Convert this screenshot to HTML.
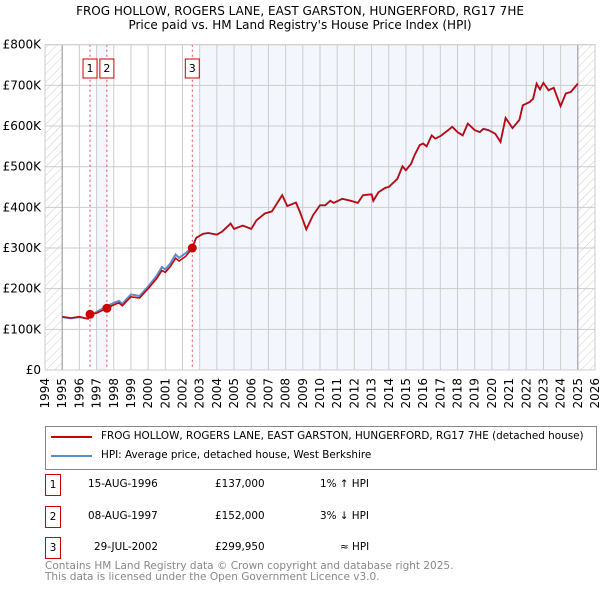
<!DOCTYPE html>
<html><head><meta charset="utf-8"><style>
body{margin:0;background:#fff;font-family:"DejaVu Sans","Liberation Sans",sans-serif;}
#wrap{position:relative;width:600px;height:590px;overflow:hidden;}
svg text{font-family:"DejaVu Sans","Liberation Sans",sans-serif;}
.t{position:absolute;font-size:10.4px;color:#000;white-space:nowrap;}
.box{position:absolute;width:16px;height:22px;border:1px solid #c00;font-size:10.4px;text-align:center;line-height:20px;box-sizing:border-box;}
</style></head><body><div id="wrap">
<svg id="svg" width="600" height="590" style="position:absolute;left:0;top:0">
<defs><pattern id="hatch" width="6" height="6" patternUnits="userSpaceOnUse" patternTransform="rotate(45)"><line x1="0" y1="0" x2="0" y2="6" stroke="#ccc" stroke-width="1"/></pattern></defs>
<g id="g"></g>
</svg>
<div class="t" style="left:0;width:600px;text-align:center;top:4px;font-size:12px">FROG HOLLOW, ROGERS LANE, EAST GARSTON, HUNGERFORD, RG17 7HE<br>Price paid vs. HM Land Registry's House Price Index (HPI)</div>
<div style="position:absolute;left:45px;top:426px;width:552px;height:44px;border:1px solid #888;box-sizing:border-box">
<div style="position:absolute;left:5px;top:9px;width:41px;height:2px;background:#c00"></div>
<div class="t" style="left:55px;top:3px">FROG HOLLOW, ROGERS LANE, EAST GARSTON, HUNGERFORD, RG17 7HE (detached house)</div>
<div style="position:absolute;left:5px;top:28px;width:41px;height:2px;background:#5b8bd0"></div>
<div class="t" style="left:55px;top:22px">HPI: Average price, detached house, West Berkshire</div>
</div>
<div>
<div class="box" style="left:45px;top:474px">1</div>
<div class="t" style="left:88px;top:478px">15-AUG-1996</div>
<div class="t" style="left:215px;top:478px">£137,000</div>
<div class="t" style="left:320px;top:478px">1% ↑ HPI</div>
<div class="box" style="left:45px;top:506px">2</div>
<div class="t" style="left:88px;top:510px">08-AUG-1997</div>
<div class="t" style="left:215px;top:510px">£152,000</div>
<div class="t" style="left:320px;top:510px">3% ↓ HPI</div>
<div class="box" style="left:45px;top:537px">3</div>
<div class="t" style="left:94px;top:541px">29-JUL-2002</div>
<div class="t" style="left:215px;top:541px">£299,950</div>
<div class="t" style="left:340px;top:541px">≈ HPI</div>
</div>
<div class="t" style="left:45px;top:561px;color:#888;line-height:11px;font-size:10.5px">Contains HM Land Registry data © Crown copyright and database right 2025.<br>This data is licensed under the Open Government Licence v3.0.</div>
</div>
<script>
const yearTicks=[1994,1995,1996,1997,1998,1999,2000,2001,2002,2003,2004,2005,2006,2007,2008,2009,2010,2011,2012,2013,2014,2015,2016,2017,2018,2019,2020,2021,2022,2023,2024,2025,2026];
const valueTicks=[0,100,200,300,400,500,600,700,800];
const valueLabels=["£0","£100K","£200K","£300K","£400K","£500K","£600K","£700K","£800K"];
const dates=[1995.0,1995.5,1996.0,1996.5,1996.62,1997.0,1997.6,1998.0,1998.3,1998.5,1999.0,1999.5,2000.0,2000.5,2000.8,2001.0,2001.3,2001.6,2001.8,2002.2,2002.57,2002.8,2003.2,2003.5,2004.0,2004.3,2004.8,2005.0,2005.5,2006.0,2006.3,2006.8,2007.2,2007.8,2008.1,2008.6,2008.83,2009.2,2009.6,2010.0,2010.3,2010.6,2010.8,2011.3,2011.8,2012.2,2012.5,2013.0,2013.1,2013.4,2013.8,2014.0,2014.5,2014.8,2015.0,2015.3,2015.5,2015.8,2016.0,2016.2,2016.5,2016.7,2017.0,2017.4,2017.7,2018.0,2018.3,2018.6,2019.0,2019.3,2019.5,2019.8,2020.2,2020.5,2020.8,2021.2,2021.6,2021.8,2022.2,2022.4,2022.6,2022.8,2023.0,2023.3,2023.6,2024.0,2024.3,2024.6,2025.0];
const propertyValues=[131,128,131,126,137,140,152,160,165,158,180,177,200,225,245,240,255,275,268,280,300,325,335,337,333,340,360,347,355,347,368,385,390,430,403,412,389,346,381,405,405,416,411,421,416,411,430,432,416,437,448,450,470,501,491,507,528,553,557,550,577,569,575,588,598,585,577,606,590,585,593,590,581,561,620,595,615,651,659,667,704,690,706,688,694,649,680,684,704];
const hpiValues=[130,127,130,126,135,143,157,165,170,163,186,182,205,232,253,247,263,284,276,288,302,325,335,337,333,340,360,347,355,347,368,385,390,430,403,412,389,346,381,405,405,416,411,421,416,411,430,432,416,437,448,450,470,501,491,507,528,553,557,550,577,569,575,588,598,585,577,606,590,585,593,590,581,561,620,595,615,651,659,667,704,690,706,688,694,649,680,684,704];
const saleDates=[1996.62,1997.6,2002.57];
const saleValues=[137,152,300];
const saleLabels=["1","2","3"];
const L=45,R=595,T=44.7,B=370,X0=1994,X1=2026,V1=800;
const xs=y=>L+(y-X0)/(X1-X0)*(R-L);
const ys=v=>B-v/V1*(B-T);
const g=document.getElementById('g');const NS="http://www.w3.org/2000/svg";
function mk(tag,a,p){const e=document.createElementNS(NS,tag);for(const k in a)e.setAttribute(k,a[k]);(p||g).appendChild(e);return e;}
let e;
e=mk('rect',{x:xs(1997.0),y:T,width:xs(1997.6)-xs(1997.0),height:B-T,fill:'#f3f6fd'});


e=mk('rect',{x:xs(2003.0),y:T,width:xs(2025.0)-xs(2003.0),height:B-T,fill:'#f3f6fd'});


e=mk('rect',{x:L,y:T,width:xs(1995)-L,height:B-T,fill:'url(#hatch)'});


e=mk('rect',{x:xs(2025),y:T,width:R-xs(2025),height:B-T,fill:'url(#hatch)'});


yearTicks.forEach(yr=>{
  e=mk('line',{x1:xs(yr),x2:xs(yr),y1:T,y2:B,stroke:'#ccc','stroke-width':1});
  
  
  const x=xs(yr),y=B+8;
  e=mk('text',{x:x+4,y:y,'font-size':12,'text-anchor':'end',transform:`rotate(-90 ${x+4} ${y})`});
  e.textContent=yr;
  
  
});
valueTicks.forEach((v,i)=>{
  e=mk('line',{x1:L,x2:R,y1:ys(v),y2:ys(v),stroke:'#ccc','stroke-width':1});
  
  
  e=mk('text',{x:L-4,y:ys(v)+4,'font-size':12,'text-anchor':'end'});
  e.textContent=valueLabels[i];
  
  
});
[1995,2025].forEach(yr=>{e=mk('line',{x1:xs(yr),x2:xs(yr),y1:T,y2:B,stroke:'#999','stroke-width':1});

});
saleDates.forEach((d,i)=>{
  e=mk('line',{x1:xs(d),x2:xs(d),y1:T,y2:B,stroke:'#e44','stroke-width':1,'stroke-dasharray':'2,3'});
  
  
  e=mk('rect',{x:xs(d)-7,y:59,width:14,height:19,fill:'#fff',stroke:'#c00'});
  
  
  e=mk('text',{x:xs(d),y:72,'font-size':11,'text-anchor':'middle'});
  e.textContent=saleLabels[i];
  
  
});
const pts=(ds,vs)=>ds.map((d,i)=>xs(d).toFixed(1)+','+ys(vs[i]).toFixed(1)).join(' ');
e=mk('polyline',{points:pts(dates,hpiValues),fill:'none',stroke:'#5b8bd0','stroke-width':2});


e=mk('polyline',{points:pts(dates,propertyValues),fill:'none',stroke:'#cc0000','stroke-width':1.6});


saleDates.forEach((d,i)=>{
  e=mk('circle',{cx:xs(d),cy:ys(saleValues[i]),r:4.5,fill:'#cc0000'});
  
  
});
e=mk('rect',{x:L,y:T,width:R-L,height:B-T,fill:'none',stroke:'#ccc'});


</script>
</body></html>
